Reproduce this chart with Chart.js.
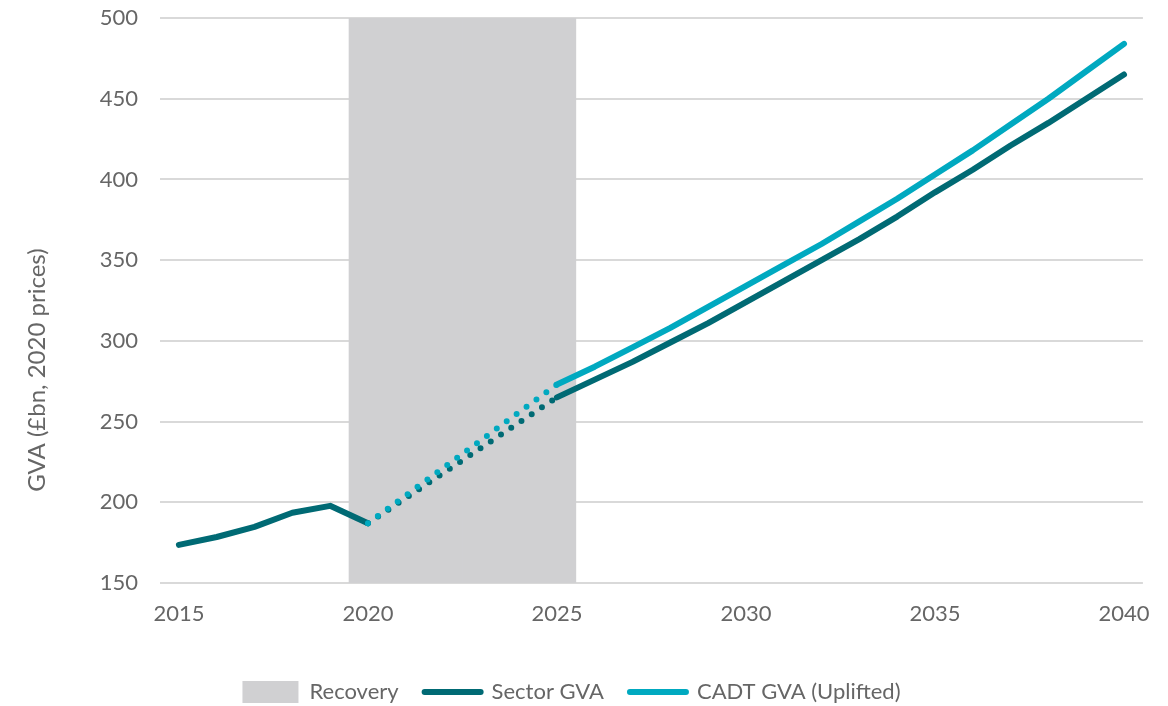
<!DOCTYPE html>
<html lang="en">
<head>
<meta charset="UTF-8">
<title>GVA projection</title>
<script src="https://cdn.jsdelivr.net/npm/chart.js@4.4.1/dist/chart.umd.min.js"></script>
<style>
    body { margin: 0; background: #fff; }
</style>
</head>
<body>
<canvas id="gvaChart" width="1168" height="706"></canvas>

<script>
    var years = ['2015', '2016', '2017', '2018', '2019', '2020', '2021', '2022', '2023',
        '2024', '2025', '2026', '2027', '2028', '2029', '2030', '2031', '2032', '2033',
        '2034', '2035', '2036', '2037', '2038', '2039', '2040'];

    // shaded recovery period, 2020-2025
    var recovery = [null, null, null, null, null, 500, 500, 500, 500, 500, 500,
        null, null, null, null, null, null, null, null, null, null, null, null, null, null, null];

    var sectorGva = [173.6, 178.5, 184.8, 193.5, 197.8, 187.0, null, null, null, null,
        265, 276, 287, 299, 311, 324, 337, 350, 363, 377, 392, 406, 421, 435, 450, 465];

    var sectorRecovery = [null, null, null, null, null, 187.0, null, null, null, null, 265,
        null, null, null, null, null, null, null, null, null, null, null, null, null, null, null];

    var cadtGva = [null, null, null, null, null, null, null, null, null, null,
        273, 284, 296, 308, 321, 334, 347, 360, 374, 388, 403, 418, 434, 450, 467, 484];

    var cadtRecovery = [null, null, null, null, null, 187.0, null, null, null, null, 273,
        null, null, null, null, null, null, null, null, null, null, null, null, null, null, null];

    var dark = '#006a74',
        cyan = '#00a9c0',
        band = '#d0d0d2',
        textGrey = '#666666';

    Chart.defaults.font.family = 'Lato, "Open Sans", sans-serif';
    Chart.defaults.font.size = 22;
    Chart.defaults.color = textGrey;

    // y axis title sits a little below the plot centre
    var axisTitle = {
        id: 'axisTitle',
        afterDraw: function (chart) {
            var ctx = chart.ctx;
            ctx.save();
            ctx.translate(37, 370);
            ctx.rotate(-Math.PI / 2);
            ctx.font = '24px Lato, "Open Sans", sans-serif';
            ctx.fillStyle = textGrey;
            ctx.textAlign = 'center';
            ctx.textBaseline = 'middle';
            ctx.fillText('GVA (£bn, 2020 prices)', 0, 0);
            ctx.restore();
        }
    };

    var dotted = [0, 12.3];

    var ctx = document.getElementById('gvaChart').getContext('2d');
    var chart = new Chart(ctx, {
        type: 'line',
        data: {
            labels: years,
            datasets: [{
                label: 'CADT GVA (Uplifted)',
                data: cadtGva,
                borderColor: cyan,
                borderWidth: 6,
                borderCapStyle: 'round',
                borderJoinStyle: 'round',
                pointRadius: 0,
                tension: 0,
                order: 0
            }, {
                label: 'CADT recovery',
                data: cadtRecovery,
                borderColor: cyan,
                borderWidth: 6,
                borderDash: dotted,
                borderCapStyle: 'round',
                pointRadius: 0,
                spanGaps: true,
                order: 1
            }, {
                label: 'Sector GVA',
                data: sectorGva,
                borderColor: dark,
                borderWidth: 6,
                borderCapStyle: 'round',
                borderJoinStyle: 'round',
                pointRadius: 0,
                tension: 0,
                order: 2
            }, {
                label: 'Sector recovery',
                data: sectorRecovery,
                borderColor: dark,
                borderWidth: 6,
                borderDash: dotted,
                borderCapStyle: 'round',
                pointRadius: 0,
                spanGaps: true,
                order: 3
            }, {
                type: 'bar',
                label: 'Recovery',
                data: recovery,
                backgroundColor: band,
                borderWidth: 0,
                barPercentage: 1,
                categoryPercentage: 1,
                order: 4
            }]
        },
        options: {
            responsive: false,
            animation: false,
            layout: {
                padding: { top: 18, right: 25, bottom: -7, left: 0 }
            },
            plugins: {
                tooltip: { enabled: false },
                legend: {
                    position: 'bottom',
                    labels: {
                        usePointStyle: true,
                        pointStyleWidth: 56,
                        boxHeight: 22,
                        padding: 26,
                        color: textGrey,
                        generateLabels: function () {
                            return [{
                                text: 'Recovery', fillStyle: band, strokeStyle: band,
                                lineWidth: 0, pointStyle: 'rect', datasetIndex: 4, fontColor: textGrey
                            }, {
                                text: 'Sector GVA', fillStyle: dark, strokeStyle: dark,
                                lineWidth: 6, lineCap: 'round', pointStyle: 'line', datasetIndex: 2, fontColor: textGrey
                            }, {
                                text: 'CADT GVA (Uplifted)', fillStyle: cyan, strokeStyle: cyan,
                                lineWidth: 6, lineCap: 'round', pointStyle: 'line', datasetIndex: 0, fontColor: textGrey
                            }];
                        }
                    }
                }
            },
            scales: {
                x: {
                    grid: { display: false, drawTicks: false },
                    border: { display: false },
                    ticks: {
                        autoSkip: false,
                        maxRotation: 0,
                        padding: 18,
                        callback: function (val, i) {
                            var y = years[i];
                            return (+y) % 5 === 0 ? y : '';
                        }
                    },
                    afterFit: function (scale) { scale.height = 72; }
                },
                y: {
                    min: 150,
                    max: 500,
                    // invisible tick marks give the gap between labels and plot
                    grid: { color: '#d9d9d9', lineWidth: 2, drawTicks: true, tickLength: 22, tickColor: 'rgba(0,0,0,0)' },
                    border: { display: false },
                    ticks: { stepSize: 50, padding: 0 },
                    afterFit: function (scale) { scale.width = 160; }
                }
            }
        },
        plugins: [axisTitle]
    });
</script>
</body>
</html>
